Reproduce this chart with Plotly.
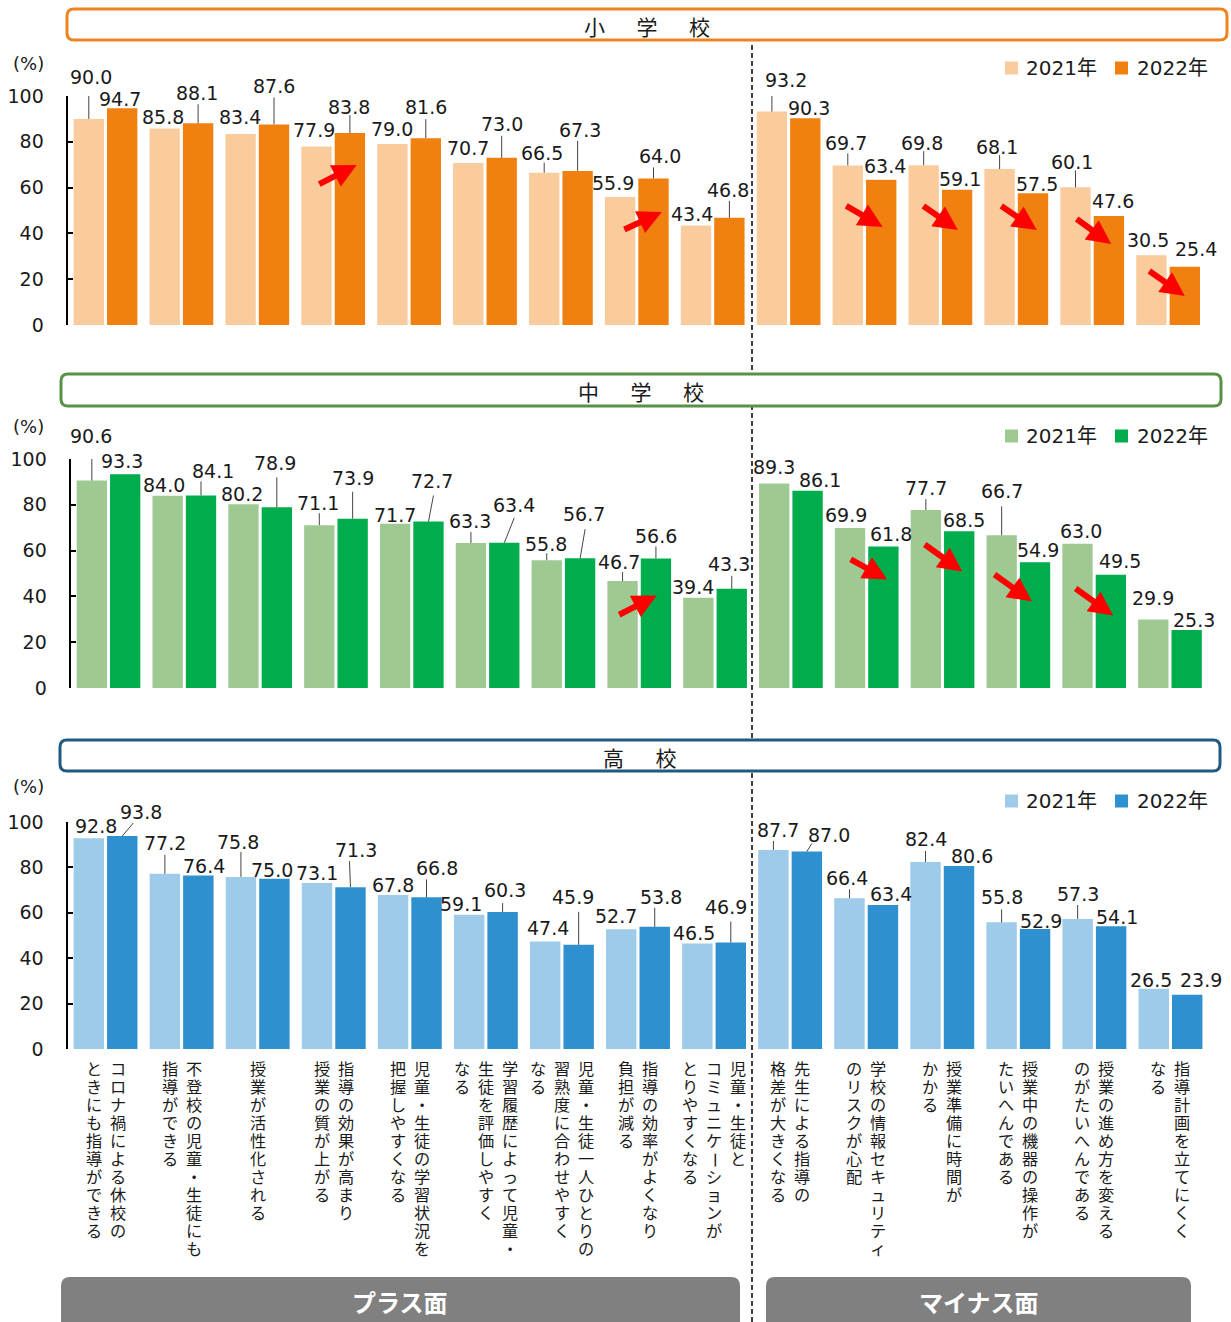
import plotly.graph_objects as go

W, H = 1231, 1322

# ---- data -------------------------------------------------------------
categories = [
    "コロナ禍による休校の<br>ときにも指導ができる",
    "不登校の児童・生徒にも<br>指導ができる",
    "授業が活性化される",
    "指導の効果が高まり<br>授業の質が上がる",
    "児童・生徒の学習状況を<br>把握しやすくなる",
    "学習履歴によって児童・<br>生徒を評価しやすく<br>なる",
    "児童・生徒一人ひとりの<br>習熟度に合わせやすく<br>なる",
    "指導の効率がよくなり<br>負担が減る",
    "児童・生徒と<br>コミュニケーションが<br>とりやすくなる",
    "先生による指導の<br>格差が大きくなる",
    "学校の情報セキュリティ<br>のリスクが心配",
    "授業準備に時間が<br>かかる",
    "授業中の機器の操作が<br>たいへんである",
    "授業の進め方を変える<br>のがたいへんである",
    "指導計画を立てにくく<br>なる",
]
side_labels = ["プラス面", "マイナス面"]
years = ["2021年", "2022年"]
school_names = ["小学校", "中学校", "高校"]
y_ticks = [0, 20, 40, 60, 80, 100]

elem_2021 = [90.0, 85.8, 83.4, 77.9, 79.0, 70.7, 66.5, 55.9, 43.4, 93.2, 69.7, 69.8, 68.1, 60.1, 30.5]
elem_2022 = [94.7, 88.1, 87.6, 83.8, 81.6, 73.0, 67.3, 64.0, 46.8, 90.3, 63.4, 59.1, 57.5, 47.6, 25.4]
jhs_2021 = [90.6, 84.0, 80.2, 71.1, 71.7, 63.3, 55.8, 46.7, 39.4, 89.3, 69.9, 77.7, 66.7, 63.0, 29.9]
jhs_2022 = [93.3, 84.1, 78.9, 73.9, 72.7, 63.4, 56.7, 56.6, 43.3, 86.1, 61.8, 68.5, 54.9, 49.5, 25.3]
hs_2021 = [92.8, 77.2, 75.8, 73.1, 67.8, 59.1, 47.4, 52.7, 46.5, 87.7, 66.4, 82.4, 55.8, 57.3, 26.5]
hs_2022 = [93.8, 76.4, 75.0, 71.3, 66.8, 60.3, 45.9, 53.8, 46.9, 87.0, 63.4, 80.6, 52.9, 54.1, 23.9]

# ---- styling / layout helpers ----------------------------------------
NUM_FONT = "DejaVu Sans, Noto Sans CJK JP, sans-serif"
JP_FONT = "Noto Sans CJK JP, sans-serif"
# compact line metrics for the stacked vertical labels (CJK glyphs come from Noto)
CAT_FONT = "Liberation Serif, Noto Sans CJK JP, sans-serif"
TEXT = "#1a1a1a"
CAT_SIZE = 16.2        # glyph size of the vertical labels
CAT_PITCH = 18         # vertical advance per glyph
CAT_TOP = 1061         # top of the first glyph cell


def X(px):
    return px / W


def Y(py):
    return 1 - py / H


def rounded_path(x0, y0, x1, y1, r):
    return (
        f"M{X(x0 + r)},{Y(y0)} L{X(x1 - r)},{Y(y0)} Q{X(x1)},{Y(y0)} {X(x1)},{Y(y0 + r)} "
        f"L{X(x1)},{Y(y1 - r)} Q{X(x1)},{Y(y1)} {X(x1 - r)},{Y(y1)} "
        f"L{X(x0 + r)},{Y(y1)} Q{X(x0)},{Y(y1)} {X(x0)},{Y(y1 - r)} "
        f"L{X(x0)},{Y(y0 + r)} Q{X(x0)},{Y(y0)} {X(x0 + r)},{Y(y0)} Z"
    )


# value-label placement: (dx, up, leader length, leader top dx) in px from bar top
elem_pos21 = [(2, 42, 32, 0), (-2, 11.5, 0, 0), (-1, 17, 0, 0), (-3, 17, 0, 0), (0, 15, 0, 0),
              (0, 15, 0, 0), (-2, 20, 10, 0), (-7, 14, 0, 0), (-4.5, 11.5, 0, 0), (14, 32, 21, 0),
              (-2, 22, 12, 0), (-2, 22, 14, 0), (-3, 22, 14, 0), (-3.5, 25.5, 17, 0), (-3, 15, 0, 0)]
elem_pos22 = [(-2, 9.5, 0, 0), (-1, 30, 19, 0), (0, 38, 27, 0), (-1, 26, 18, 0), (0, 31, 19, 0),
              (0, 34, 22, 0), (2, 41, 30, 0), (6, 22, 11, 0), (-1, 28, 17, 0), (4, 10, 0, 0),
              (3.5, 14, 0, 0), (3, 11, 0, 0), (3.5, 9, 0, 0), (4, 15, 0, 0), (11, 18, 0, 0)]
jhs_pos21 = [(-1, 45, 32, 0), (-4, 11, 0, 0), (-1, 10, 0, 0), (-1, 22, 12, 0), (0, 9, 0, 0),
             (-1, 22, 11, 0), (-1, 16, 7, 0), (-4, 19, 9, 0), (-5.5, 11, 0, 0), (0, 16.6, 0, 0),
             (-4, 13, 0, 0), (0, 22, 11, 0), (0, 44, 29, 0), (4, 13, 0, 0), (0, 22, 0, 0)]
jhs_pos22 = [(-3.5, 13, 0, 0), (12, 24, 14, 0), (-1.5, 44, 30, 0), (0, 41, 27, 0), (4, 41, 26, 5),
             (10, 38, 25, 10), (4, 44, 29, 5), (0, 22, 12, 0), (-3, 25, 13, 0), (12, 11, 0, 0),
             (8, 12, 0, 0), (5, 11, 0, 0), (3, 12, 0, 0), (9, 14, 0, 0), (7, 10, 0, 0)]
hs_pos21 = [(7.5, 12, 0, 0), (0, 31, 19, 0), (-2.5, 35, 25, 0), (0, 10, 0, 0), (0, 10, 0, 0),
            (-8, 11, 0, 0), (2.5, 13, 0, 0), (-5, 13, 0, 0), (-3, 10, 0, 0), (5, 20, 9, 0),
            (-2, 20, 9, 0), (0, 23, 11, 0), (0, 25, 13, 0), (0, 25, 14, 0), (-3, 9, 0, 0)]
hs_pos22 = [(19, 24, 13, 11), (6, 10, 0, 0), (-2.5, 9, 0, 0), (6, 37, 26, -1), (10, 29, 18, 0),
            (2, 22, 9, 0), (-6, 48, 33, 0), (6, 30, 19, 0), (-5, 36, 21, 0), (22, 17, 8, 5),
            (8, 11, 0, 0), (13, 10, 0, 0), (5.5, 8, 0, 0), (5.5, 9, 0, 0), (13.5, 15, 0, 0)]

# red trend arrows: (tip x, tip y, tail dx px, tail dy px)
elem_arrows = [(3.31, 69.9, -39, 20), (7.33, 49.3, -39, 18), (10.24, 42.8, -38, -22),
               (11.23, 41.5, -36, -25), (12.27, 41.5, -37, -25), (13.25, 35.4, -36, -26),
               (14.22, 12.7, -37, -26)]
jhs_arrows = [(7.23, 40.4, -39, 20), (10.27, 47.4, -38, -21), (11.26, 50.9, -39, -28),
              (12.18, 37.8, -39, -28), (13.25, 31.7, -39, -28)]

panels = [
    dict(title=school_names[0], v21=elem_2021, v22=elem_2022, c21="#FACB9C", c22="#F0800F",
         border="#EE8420", xpx=(67.55, 1206.05), ypx=(96, 325), box=(67, 9, 1227, 40),
         title_y=26, legend_y=68, pct_y=63, pos21=elem_pos21, pos22=elem_pos22, arrows=elem_arrows),
    dict(title=school_names[1], v21=jhs_2021, v22=jhs_2022, c21="#9FC993", c22="#00AD4C",
         border="#5B9146", xpx=(70.6, 1207.9), ypx=(459, 688), box=(61, 374, 1221, 406),
         title_y=391, legend_y=436, pct_y=426, pos21=jhs_pos21, pos22=jhs_pos22, arrows=jhs_arrows),
    dict(title=school_names[2], v21=hs_2021, v22=hs_2022, c21="#9DCBE9", c22="#2F90CF",
         border="#1F5A80", xpx=(67.5, 1208.5), ypx=(822, 1049), box=(60, 740, 1220, 771),
         title_y=757, legend_y=801, pct_y=786, pos21=hs_pos21, pos22=hs_pos22, arrows=[]),
]

idx = list(range(len(categories)))
OFF = 0.22
fig = go.Figure()
annotations = []
shapes = []

# dashed divider between the two sides
shapes.append(dict(type="line", xref="paper", yref="paper", x0=X(752), x1=X(752), y0=Y(1322), y1=Y(42),
                   line=dict(color="#000", width=1.5, dash="5px,3px")))

layout_axes = {}
plain = [c.replace("<br>", "") for c in categories]
for p, cfg in enumerate(panels):
    sfx = "" if p == 0 else str(p + 1)
    xa, ya = "x" + sfx, "y" + sfx
    for k, (vals, color, off) in enumerate([(cfg["v21"], cfg["c21"], -OFF - 0.2),
                                            (cfg["v22"], cfg["c22"], OFF - 0.2)]):
        fig.add_trace(go.Bar(
            x=idx, y=vals, width=0.4, offset=off, name=years[k], customdata=plain,
            marker=dict(color=color, line=dict(width=0)), xaxis=xa, yaxis=ya, showlegend=False,
            hovertemplate="%{customdata}<br>" + cfg["title"] + " " + years[k] + ": %{y:.1f}%<extra></extra>",
        ))

    layout_axes["xaxis" + sfx] = dict(domain=[X(cfg["xpx"][0]), X(cfg["xpx"][1])], range=[-0.5, 14.5],
                                      anchor=ya, showticklabels=False, showline=False, showgrid=False,
                                      zeroline=False, ticks="", automargin=False, fixedrange=True)
    layout_axes["yaxis" + sfx] = dict(domain=[Y(cfg["ypx"][1]), Y(cfg["ypx"][0])], range=[0, 100],
                                      anchor=xa, tickvals=y_ticks, ticks="inside", ticklen=5, tickwidth=2,
                                      tickcolor="#000", showline=True, linewidth=2, linecolor="#000",
                                      showgrid=False, zeroline=False, ticklabelstandoff=18, automargin=False,
                                      tickfont=dict(family=NUM_FONT, size=19, color=TEXT), fixedrange=True)

    # value labels + leader lines
    for vals, pos, sign in [(cfg["v21"], cfg["pos21"], -1), (cfg["v22"], cfg["pos22"], 1)]:
        for i, v in enumerate(vals):
            dx, up, lead, ldx = pos[i]
            xc = i + sign * OFF
            annotations.append(dict(x=xc, y=v, xref=xa, yref=ya, text=f"{v:.1f}", showarrow=False,
                                    xanchor="center", yanchor="middle", xshift=dx, yshift=up, borderpad=0,
                                    font=dict(family=NUM_FONT, size=19, color=TEXT)))
            if lead:
                shapes.append(dict(type="line", xref=xa, yref=ya, xsizemode="pixel", ysizemode="pixel",
                                   xanchor=xc, yanchor=v, x0=0, x1=ldx, y0=0, y1=lead,
                                   line=dict(color="#444", width=1)))

    # trend arrows
    for tx, ty, ax, ay in cfg["arrows"]:
        annotations.append(dict(x=tx, y=ty, xref=xa, yref=ya, ax=ax, ay=ay, text="", showarrow=True,
                                arrowhead=2, arrowsize=0.8, arrowwidth=6, arrowcolor="#FF0000"))

    # section header
    bx0, by0, bx1, by1 = cfg["box"]
    shapes.append(dict(type="path", xref="paper", yref="paper", path=rounded_path(bx0, by0, bx1, by1, 7),
                       fillcolor="#fff", line=dict(color=cfg["border"], width=3)))
    annotations.append(dict(x=X((bx0 + bx1) / 2), y=Y(cfg["title_y"]), xref="paper", yref="paper",
                            text="\u3000\u2002".join(cfg["title"]),
                            showarrow=False, xanchor="center", yanchor="middle",
                            font=dict(family=JP_FONT, size=21, color=TEXT)))

    # (%) unit label
    annotations.append(dict(x=X(28), y=Y(cfg["pct_y"]), xref="paper", yref="paper", text="(%)",
                            showarrow=False, xanchor="center", yanchor="middle",
                            font=dict(family=NUM_FONT, size=18, color=TEXT)))

    # legend swatches
    ly = cfg["legend_y"]
    for k, (sx, tx, col) in enumerate([(1005, 1024, cfg["c21"]), (1115, 1135, cfg["c22"])]):
        shapes.append(dict(type="rect", xref="paper", yref="paper", x0=X(sx), x1=X(sx + 13),
                           y0=Y(ly + 6.5), y1=Y(ly - 6.5), fillcolor=col, line=dict(width=0)))
        annotations.append(dict(x=X(tx), y=Y(ly), xref="paper", yref="paper", text=years[k],
                                showarrow=False, xanchor="left", yanchor="middle",
                                font=dict(family=NUM_FONT, size=20, color=TEXT)))


# vertical (tategaki) category labels under the bottom panel:
# each column is one stacked text block; the base font sets the line pitch
# (plotly spaces lines by 1.3em) while the glyphs themselves are drawn at CAT_SIZE.
def column_runs(col):
    """Split a column into runs, keeping the long-vowel mark as its own rotated run."""
    runs, cur, start = [], "", 0
    for j, ch in enumerate(col):
        if ch == "ー":
            if cur:
                runs.append((start, cur, False))
            runs.append((j, ch, True))
            cur, start = "", j + 1
        else:
            if not cur:
                start = j
            cur += ch
    if cur:
        runs.append((start, cur, False))
    return runs


base_size = CAT_PITCH / 1.3
for i, label in enumerate(categories):
    cols = label.split("<br>")
    n = len(cols)
    for c, col in enumerate(cols):
        xoff = (n - 1) / 2 * 24 - c * 24
        for start, run, rotated in column_runs(col):
            center = CAT_TOP + CAT_PITCH * (start + len(run) / 2)
            if rotated:
                annotations.append(dict(x=i, y=Y(center), xref="x3", yref="paper", text=run,
                                        textangle=90, showarrow=False, xanchor="center", yanchor="middle",
                                        xshift=xoff, borderpad=0,
                                        font=dict(family=CAT_FONT, size=CAT_SIZE, color=TEXT)))
            else:
                body = "<br>".join(f"<span style='font-size:{CAT_SIZE}px'>{ch}</span>" for ch in run)
                annotations.append(dict(x=i, y=Y(center), xref="x3", yref="paper", text=body,
                                        showarrow=False, xanchor="center", yanchor="middle",
                                        align="center", xshift=xoff, borderpad=0,
                                        font=dict(family=CAT_FONT, size=base_size, color=TEXT)))

# side captions at the bottom
for (x0, x1), txt in zip([(61, 740), (766, 1191)], side_labels):
    shapes.append(dict(type="path", xref="paper", yref="paper", path=rounded_path(x0, 1277, x1, 1340, 9),
                       fillcolor="#808080", line=dict(width=0)))
    annotations.append(dict(x=X((x0 + x1) / 2), y=Y(1301), xref="paper", yref="paper", text=f"<b>{txt}</b>",
                            showarrow=False, xanchor="center", yanchor="middle",
                            font=dict(family=JP_FONT, size=24, color="#fff")))

fig.update_layout(
    width=W, height=H, autosize=False, margin=dict(l=0, r=0, t=0, b=0, pad=0, autoexpand=False),
    paper_bgcolor="#fff", plot_bgcolor="#fff", barmode="overlay", showlegend=False,
    font=dict(family=JP_FONT, color=TEXT), annotations=annotations, shapes=shapes,
    **layout_axes,
)

fig.write_html("out.html")
